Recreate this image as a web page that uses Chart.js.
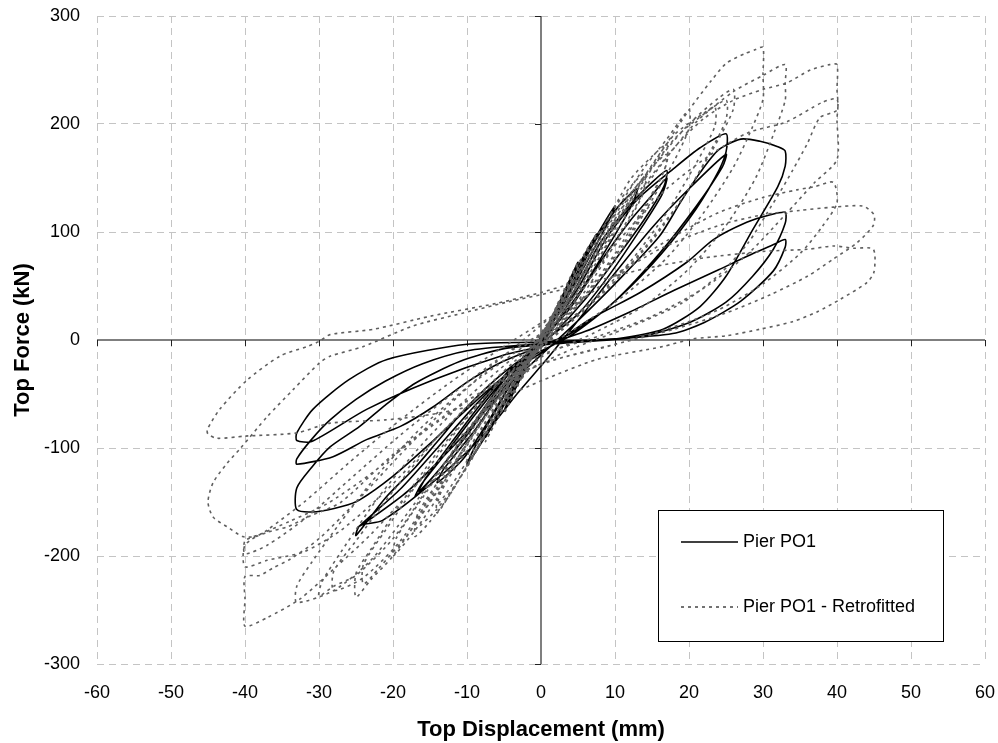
<!DOCTYPE html>
<html lang="en">
<head>
<meta charset="UTF-8">
<title>Pier PO1 - Top Force vs Top Displacement</title>
<script src="https://cdn.jsdelivr.net/npm/chart.js@4.4.1/dist/chart.umd.min.js"></script>
<style>
    html, body { margin: 0; padding: 0; background: #fff; }
    #wrap { width: 998px; height: 743px; }
</style>
</head>
<body>

<div id="wrap"><canvas id="hysteresisChart" width="998" height="743"></canvas></div>

<script>
    // axis ticks
    const dispTicks = [-60, -50, -40, -30, -20, -10, 0, 10, 20, 30, 40, 50, 60];
    const forceTicks = [-300, -200, -100, 0, 100, 200, 300];

    // Pier PO1 : [displacement mm, force kN]
    const po1Elastic = [
        [0,0],[1.2,17],[2.5,35],[1.8,24],[0.3,4],[-1.2,-15],[-2.5,-33],[-1.7,-21],[-0.2,-3],
        [1.5,20],[3.5,50],[5,72],[4.2,58],[2,27],[0,2],[-2,-25],[-3.8,-50],[-5,-66],[-4.2,-53],[-2,-25],[0,-2],
        [2.5,33],[5,68],[7.5,98],[6.5,82],[4,46],[1,10],[-2,-22],[-5,-60],[-7.5,-90],[-6.5,-76],[-3.5,-38],[-0.5,-5]
    ];
    const po1Cycles10 = [
        [3,36],[6,78],[8.5,108],[10,124],[9,108],[6,70],[3,33],[0,3],[-3,-34],[-6,-72],[-8.5,-100],[-10,-115],[-9,-100],[-6,-64],[-3,-28],[0,-2],
        [3.5,40],[7,88],[10.5,124],[13,140],[12.2,124],[9,86],[5,42],[1,6],[-3,-28],[-7,-74],[-10.5,-110],[-14,-132],[-13.2,-120],[-9,-84],[-5,-44],[-1,-7]
    ];
    const po1Cycles17 = [
        [4,40],[8,90],[12,125],[15,146],[17,157],[16.6,142],[14,112],[10,74],[6,38],[2,8],[-2,-16],[-6,-50],[-10,-88],[-14,-122],[-17,-145],[-16.2,-134],[-13,-106],[-9,-70],[-5,-36],[-1,-8],
        [4,30],[8,72],[12,110],[15,134],[17,150],[16.3,134],[13,98],[9,58],[5,24],[1,2],[-3,-20],[-7,-56],[-11,-96],[-14.5,-126],[-16.5,-140],[-15.6,-128],[-12,-94],[-8,-58],[-4,-26],[0,-4]
    ];
    const po1Cycles25 = [
        [5,48],[9,96],[13,130],[17.8,158],[21.5,178],[25,191],[25,174],[23.5,150],[20,112],[15,70],[9,30],[4,6],[0,-6],
        [-5,-30],[-10,-62],[-14,-94],[-17,-118],[-21,-146],[-25,-181],[-24.5,-172],[-21.4,-167],[-15,-134],[-8,-90],[-3,-48],[1,-16],[5,18],
        [10,62],[15,104],[20,140],[25,172],[24.5,160],[21,124],[16,80],[10,36],[4,4],[-2,-18],[-8,-54],[-14,-100],[-19,-138],[-24.5,-172],[-23.5,-168],[-18,-140],[-11,-92],[-5,-46],[0,-14]
    ];
    const po1Cycles33 = [
        [5,18],[10,52],[16,96],[18.8,127],[21.5,155],[24,176],[27,186],[29.6,184],[32,179],[33,175],[33,161],[32,142],[28.6,102],[25,59],[21.5,31],[16.5,10],[10,1],[3,-3],
        [-5,-8],[-11,-20],[-17,-40],[-21,-60],[-24.5,-80],[-28.5,-99],[-31,-118],[-33,-137],[-33,-157],[-30.3,-159],[-26.8,-154],[-24.5,-148],[-20,-126],[-15,-96],[-10,-64],[-5,-34],[0,-12],
        [6.6,19],[13.4,44],[19.7,72],[23.3,93],[27.8,109],[31,116],[33,118],[33,108],[31.4,84],[28.6,59],[25,35],[20,16],[13.4,3],[5,-2],
        [-3,-5],[-10,-10],[-16,-22],[-21,-38],[-25,-55],[-28.5,-74],[-31,-92],[-33,-110],[-33,-115],[-28.1,-108],[-23.5,-92],[-19,-80],[-14.6,-62],[-10,-39],[-5.5,-21],[0,-6],
        [6,8],[12,26],[18,46],[24,65],[28,78],[31,87],[33,93],[33,86],[31.4,64],[27,36],[22,16],[17.8,6],[10,1],[0,-2],
        [-10,-4],[-20.8,-18],[-26,-37],[-30.8,-64],[-33,-86],[-33,-93],[-31,-94],[-23.5,-64],[-14.6,-37],[-5.5,-15],[0,-6]
    ];

    // Pier PO1 - Retrofitted
    const retroElastic = [
        [0,0],[1.2,18],[2.5,36],[1.8,25],[0.2,4],[-1.2,-16],[-2.5,-35],[-1.7,-23],[-0.2,-3],
        [2,30],[3.8,56],[5,72],[4.3,60],[2.2,30],[0,3],[-2,-26],[-3.8,-52],[-5,-68],[-4.3,-56],[-2.2,-27],[0,-2],
        [2.5,36],[5,70],[7.5,98],[6.7,86],[4,50],[1,12],[-2,-24],[-5,-62],[-7.5,-94],[-6.6,-82],[-4,-46],[-1,-8],
        [3,40],[6,80],[8.5,106],[9.7,118],[9.7,102],[8,82],[5,46],[1.5,12],[-2,-22],[-6,-70],[-8.5,-100],[-10,-115],[-9.6,-100],[-7,-72],[-4,-38],[-1,-6]
    ];
    const retroCycles13 = [
        [3,38],[7,86],[10.5,128],[14,155],[14,139],[12,112],[8.5,72],[5,36],[1,4],[-3,-32],[-7,-80],[-10.5,-122],[-14,-160],[-14,-145],[-12,-118],[-8.5,-78],[-5,-42],[-1,-6],
        [3.5,40],[7,82],[11,126],[14,150],[13.6,134],[10,92],[6,50],[2,14],[-2,-20],[-6,-64],[-10,-112],[-13,-144],[-14,-152],[-13.2,-136],[-9,-92],[-5,-48],[-1,-8]
    ];
    const retroCycles17 = [
        [4,46],[8,98],[12,148],[15,170],[17,181],[17,164],[15.5,140],[12,98],[8,58],[4,24],[0,-6],[-4,-42],[-8,-92],[-12,-140],[-15,-168],[-17,-182],[-17,-172],[-15.5,-150],[-12,-108],[-8,-66],[-4,-30],[0,4],
        [4,40],[8,88],[12,134],[15,160],[17,172],[16.6,156],[14,124],[10,80],[6,42],[2,10],[-2,-24],[-6,-68],[-10,-118],[-14,-156],[-17,-175],[-16.6,-160],[-13,-122],[-9,-80],[-5,-40],[-1,-4]
    ];
    const retroCycles25 = [
        [5,60],[10,118],[14,160],[17,186],[20,213],[20,196],[18,166],[14,118],[10,74],[5,32],[0,-4],[-5,-46],[-10,-98],[-14,-146],[-17,-176],[-20,-200],[-19.6,-184],[-16,-146],[-11,-96],[-6,-50],[-1,-10],
        [4,40],[9,98],[14,150],[18,186],[21,204],[25,222],[25,204],[23,176],[20,140],[15,94],[10,54],[4,16],[-1,-14],[-6,-56],[-11,-106],[-16,-160],[-20,-200],[-23,-222],[-25,-238],[-25,-216],[-23,-194],[-19,-152],[-14,-104],[-8,-56],[-2,-14],
        [5,55],[10,112],[14,152],[18,190],[22,210],[23.5,216],[23.5,198],[21,164],[17,118],[12,72],[6,30],[1,0],[-4,-36],[-9,-86],[-14,-140],[-18,-180],[-22,-212],[-24,-226],[-24,-208],[-21,-176],[-16,-126],[-10,-72],[-4,-26],[1,10],
        [6,62],[11,118],[16,168],[20,200],[24,224],[26,232],[26,214],[24,186],[20,140],[15,92],[9,48],[3,14],[-3,-26],[-8,-76],[-14,-136],[-19,-186],[-24,-220],[-28,-232],[-28,-214],[-25,-186],[-20,-140],[-14,-90],[-8,-48],[-2,-10]
    ];
    const retroCycles33 = [
        [3,20],[8,78],[13,140],[17,182],[20,213],[23,240],[25,256],[27.5,265],[29,269],[30,271],[30,246],[30,223],[28.5,196],[26,160],[22,118],[17,76],[11,40],[5,12],[0,-10],
        [-5,-40],[-10,-84],[-15,-134],[-20,-184],[-25,-218],[-28,-228],[-30,-237],[-29.6,-224],[-27,-196],[-22,-146],[-16,-96],[-10,-54],[-4,-18],
        [1,8],[6,56],[11,110],[16,160],[21,202],[26,230],[30,245],[33,255],[33,238],[33,222],[31.5,192],[29,150],[25,106],[20,66],[14,32],[7,6],[0,-16],
        [-6,-52],[-12,-104],[-18,-160],[-23,-204],[-28,-232],[-33,-243],[-33,-228],[-31,-206],[-27,-168],[-22,-124],[-16,-80],[-10,-44],[-4,-14],[1,12]
    ];
    const retroCycles40 = [
        [6,66],[12,126],[18,178],[22,205],[26,222],[30,232],[33.2,238],[36.4,250],[39,255],[40,255],[40,232],[40,213],[37.7,206],[36,182],[34,157],[32.3,137],[30.5,117],[28,90],[24,60],[19,34],[12,12],[5,-6],
        [-2,-30],[-9,-76],[-16,-128],[-23,-180],[-28,-212],[-32.6,-240],[-37,-257],[-40,-265],[-40,-240],[-40,-219],[-38,-218],[-36.2,-211],[-33.9,-203],[-30,-184],[-25,-150],[-19,-106],[-13,-64],[-7,-26],[-1,8],
        [5,44],[11,96],[17,140],[23,172],[28,192],[33.2,202],[38,220],[40,223],[40,204],[40,167],[37,146],[33,116],[28,80],[22,48],[15,22],[8,4],[0,-14],
        [-7,-44],[-14,-90],[-21,-140],[-27,-176],[-32,-196],[-37,-204],[-40,-210],[-40,-190],[-37,-176],[-32,-150],[-26,-114],[-19,-74],[-12,-38],[-5,-6],[1,20],
        [6,40],[12,70],[18,96],[24,118],[30,132],[34.6,139],[37,142],[39.5,146],[40,127],[38,105],[35,80],[30,52],[24,28],[17,10],[9,-6],[0,-22],
        [-8,-48],[-16,-86],[-23,-124],[-29,-152],[-34,-168],[-38,-180],[-40,-186],[-40,-198],[-37,-190],[-32,-166],[-26,-130],[-19,-88],[-12,-50],[-5,-14],[0,6]
    ];
    const retroCycles45 = [
        [8,50],[16,84],[24,106],[30,116],[35,120],[39.5,123],[43.5,124],[45,116],[44.9,106],[42.7,90],[39.5,75],[36,59],[31,42],[25,25],[18,10],[10,-4],[2,-18],
        [-6,-40],[-13,-70],[-20,-106],[-27,-150],[-31.2,-163],[-34.3,-173],[-37,-178],[-38.6,-182],[-40.3,-182],[-42.4,-173],[-44.3,-164],[-45,-150],[-44.3,-132],[-42.4,-114],[-40.7,-101],[-37,-71],[-33.5,-46],[-29.9,-21],[-28.5,-15],[-24,-6],[-17.3,13],[-10.5,25],[-4,36],[0,42],
        [6,52],[14,66],[22,76],[30,82],[36,84],[39.5,87],[42.2,85],[44.9,84],[45,63],[44,53],[40.4,37.5],[37.3,26],[34,17],[29.6,10],[25.1,4],[20.5,1],[16.5,-6],[7.6,-18],[0.3,-37],
        [-6,-55],[-14,-68],[-21,-74],[-28.5,-77],[-33,-86],[-40,-89],[-43.8,-91],[-45,-87],[-45.1,-83],[-43.4,-64],[-39.7,-37],[-35.3,-15],[-31.6,-6],[-29.9,-1],[-28.5,5],[-22.6,10],[-15,22],[-6,34],[0,44],[3,50]
    ];

    const FONT = '"Liberation Sans", Arial, sans-serif';

    function toPoints(...groups) {
        let pts = [];
        groups.forEach(g => g.forEach(p => pts.push({ x: p[0], y: p[1] })));
        return pts;
    }

    // grey zero axes with their small tick marks
    const zeroAxes = {
        id: 'zeroAxes',
        beforeDatasetsDraw(chart) {
            const { ctx, chartArea, scales } = chart;
            const x0 = scales.x.getPixelForValue(0);
            const y0 = scales.y.getPixelForValue(0);
            ctx.save();
            ctx.strokeStyle = '#7f7f7f';
            ctx.lineWidth = 2;
            ctx.beginPath();
            ctx.moveTo(chartArea.left, y0);
            ctx.lineTo(chartArea.right, y0);
            ctx.moveTo(x0, chartArea.top);
            ctx.lineTo(x0, chartArea.bottom);
            ctx.stroke();

            ctx.strokeStyle = '#222';
            ctx.lineWidth = 1;
            ctx.beginPath();
            dispTicks.forEach(v => {
                const px = Math.round(scales.x.getPixelForValue(v)) + 0.5;
                ctx.moveTo(px, y0);
                ctx.lineTo(px, y0 + 6);
            });
            forceTicks.forEach(v => {
                const py = Math.round(scales.y.getPixelForValue(v)) + 0.5;
                ctx.moveTo(x0, py);
                ctx.lineTo(x0 - 6, py);
            });
            ctx.stroke();
            ctx.restore();
        }
    };

    // boxed legend in the lower right of the plot
    const boxLegend = {
        id: 'boxLegend',
        afterDraw(chart) {
            const { ctx, chartArea } = chart;
            const left = chartArea.left + 561, top = chartArea.top + 494;
            const w = 285, h = 131;
            ctx.save();
            ctx.fillStyle = '#fff';
            ctx.fillRect(left, top, w, h);
            ctx.strokeStyle = '#000';
            ctx.lineWidth = 1;
            ctx.strokeRect(left + 0.5, top + 0.5, w, h);

            ctx.font = '18px ' + FONT;
            ctx.textBaseline = 'middle';
            ctx.fillStyle = '#000';
            chart.data.datasets.forEach((ds, i) => {
                const ly = top + 32 + i * 65;
                ctx.strokeStyle = i === 0 ? '#000' : '#444';
                ctx.lineWidth = 1.5;
                ctx.setLineDash(ds.borderDash || []);
                ctx.beginPath();
                ctx.moveTo(left + 23, ly);
                ctx.lineTo(left + 80, ly);
                ctx.stroke();
                ctx.setLineDash([]);
                ctx.fillText(ds.label, left + 85, ly);
            });
            ctx.restore();
        }
    };

    // fixed axis boxes, no extra overhang padding from the tick labels
    function fixBox(s, size) {
        if (s.isHorizontal()) s.height = size; else s.width = size;
        s.paddingTop = 0;
        s.paddingBottom = 0;
        s.paddingLeft = 0;
        s.paddingRight = 0;
    }

    const ctx = document.getElementById('hysteresisChart').getContext('2d');
    const chart = new Chart(ctx, {
        type: 'scatter',
        data: {
            datasets: [
                {
                    label: 'Pier PO1',
                    data: toPoints(po1Elastic, po1Cycles10, po1Cycles17, po1Cycles25, po1Cycles33),
                    showLine: true,
                    borderColor: '#000',
                    borderWidth: 1.6,
                    pointRadius: 0,
                    tension: 0.25,
                    order: 2
                },
                {
                    label: 'Pier PO1 - Retrofitted',
                    data: toPoints(retroElastic, retroCycles13, retroCycles17, retroCycles25, retroCycles33, retroCycles40, retroCycles45),
                    showLine: true,
                    borderColor: '#5f5f5f',
                    borderWidth: 1.6,
                    borderDash: [3, 4],
                    pointRadius: 0,
                    tension: 0.25,
                    order: 1
                }
            ]
        },
        options: {
            responsive: false,
            animation: false,
            layout: { padding: { left: 0, right: 13, top: 16, bottom: 0 } },
            plugins: {
                legend: { display: false },
                tooltip: { enabled: false }
            },
            scales: {
                x: {
                    type: 'linear',
                    min: -60,
                    max: 60,
                    afterBuildTicks: s => { s.ticks = dispTicks.map(v => ({ value: v })); },
                    afterFit: s => fixBox(s, 79),
                    ticks: { font: { family: FONT, size: 18 }, color: '#000', padding: 18, maxRotation: 0 },
                    grid: { color: '#c4c4c4', lineWidth: 1, drawTicks: false },
                    border: { display: false, dash: [7, 5] },
                    title: {
                        display: true,
                        text: 'Top Displacement (mm)',
                        color: '#000',
                        font: { family: FONT, size: 22, weight: 'bold' },
                        padding: { top: 0, bottom: 0 }
                    }
                },
                y: {
                    type: 'linear',
                    min: -300,
                    max: 300,
                    afterBuildTicks: s => { s.ticks = forceTicks.map(v => ({ value: v })); },
                    afterFit: s => fixBox(s, 97),
                    ticks: { font: { family: FONT, size: 18 }, color: '#000', padding: 17 },
                    grid: { color: '#c4c4c4', lineWidth: 1, drawTicks: false },
                    border: { display: false, dash: [7, 5] },
                    title: {
                        display: true,
                        text: 'Top Force (kN)',
                        color: '#000',
                        font: { family: FONT, size: 22, weight: 'bold' },
                        padding: { top: 10, bottom: 0 }
                    }
                }
            }
        },
        plugins: [zeroAxes, boxLegend]
    });
</script>

</body>
</html>
